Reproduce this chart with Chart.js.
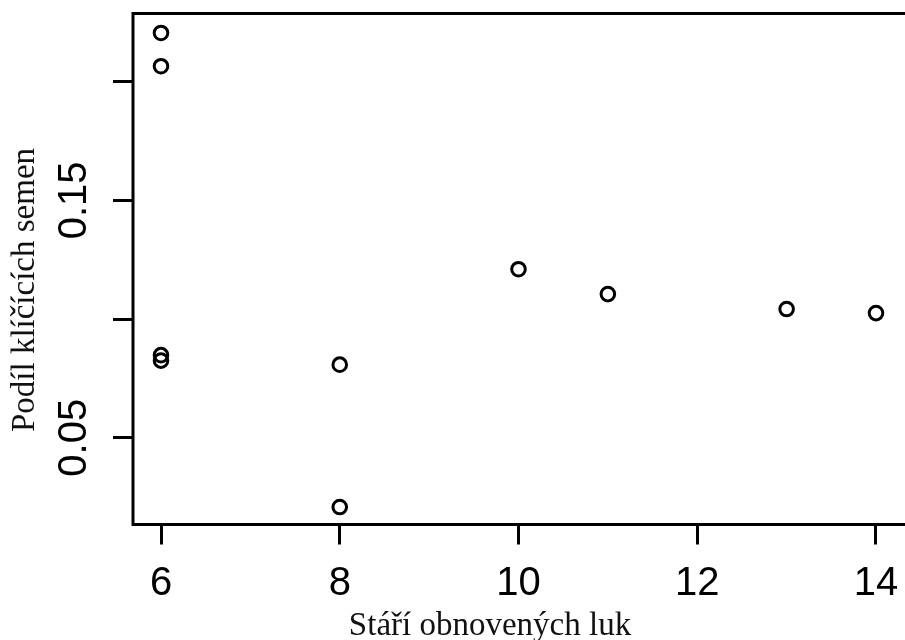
<!DOCTYPE html>
<html lang="cs">
<head>
    <meta charset="UTF-8">
    <title>Podíl klíčících semen</title>
    <script src="https://cdn.jsdelivr.net/npm/chart.js@4/dist/chart.umd.min.js"></script>
    <style>
        html, body { margin: 0; padding: 0; background: #fff; overflow: hidden; }
    </style>
</head>
<body>
    <canvas id="graf" width="905" height="640"></canvas>
    <script>
        // stari obnovenych luk (roky) a podil klicicich semen
        const stari = [6, 6, 6, 6, 8, 8, 10, 11, 13, 14];
        const podil = [0.2205, 0.2065, 0.0848, 0.0825, 0.0808, 0.0208, 0.1210, 0.1105, 0.1042, 0.1025];

        const xTicks = [6, 8, 10, 12, 14];
        const xTickLabels = ['6', '8', '10', '12', '14'];
        const yTicks = [0.05, 0.10, 0.15, 0.20];
        const yTickLabels = ['0.05', '', '0.15', ''];

        const xTitle = 'Stáří obnovených luk';
        const yTitle = 'Podíl klíčících semen';

        const body = [];
        for (let i = 0; i < stari.length; i++) {
            body.push({ x: stari[i], y: podil[i] });
        }

        // ramecek (prava strana je v originale oriznuta), popisky os a nazvy os
        const rPlot = {
            id: 'rPlot',
            afterDraw(chart) {
                const c = chart.ctx;
                const a = chart.chartArea;
                c.save();
                c.strokeStyle = '#000';
                c.lineWidth = 3;
                c.beginPath();
                c.moveTo(chart.width + 2, a.top);
                c.lineTo(a.left, a.top);
                c.lineTo(a.left, a.bottom);
                c.lineTo(chart.width + 2, a.bottom);
                c.stroke();

                const xs = chart.scales.x;
                const ys = chart.scales.y;
                c.fillStyle = '#000';
                c.font = '40px "Liberation Sans", Arial, sans-serif';
                c.textAlign = 'center';
                c.textBaseline = 'alphabetic';
                for (let i = 0; i < xTicks.length; i++) {
                    c.fillText(xTickLabels[i], xs.getPixelForValue(xTicks[i]), 595);
                }
                for (let i = 0; i < yTicks.length; i++) {
                    if (!yTickLabels[i]) continue;
                    c.save();
                    c.translate(86, ys.getPixelForValue(yTicks[i]));
                    c.rotate(-Math.PI / 2);
                    c.fillText(yTickLabels[i], 0, 0);
                    c.restore();
                }

                c.fillStyle = '#111';
                c.font = '33px "Liberation Serif", "Times New Roman", serif';
                c.fillText(xTitle, 490, 635);
                c.save();
                c.translate(34, 290);
                c.rotate(-Math.PI / 2);
                c.fillText(yTitle, 0, 0);
                c.restore();
                c.restore();
            }
        };

        const ctx = document.getElementById('graf').getContext('2d');
        const graf = new Chart(ctx, {
            type: 'scatter',
            data: {
                datasets: [{
                    label: yTitle,
                    data: body,
                    pointStyle: 'circle',
                    pointRadius: 6.8,
                    pointHoverRadius: 6.8,
                    pointBorderWidth: 3,
                    borderColor: '#000',
                    backgroundColor: 'rgba(0,0,0,0)'
                }]
            },
            options: {
                responsive: false,
                animation: false,
                layout: { autoPadding: false, padding: { top: 13.5, right: 0, left: 0, bottom: 0 } },
                plugins: { legend: { display: false }, tooltip: { enabled: false } },
                scales: {
                    x: {
                        type: 'linear',
                        min: 5.6867,
                        max: 14.3245,
                        afterBuildTicks: (s) => { s.ticks = xTicks.map(v => ({ value: v })); },
                        afterFit: (s) => { s.height = 115.5; },
                        border: { display: false },
                        grid: { drawOnChartArea: false, drawTicks: true, tickLength: 20, lineWidth: 3, color: '#000' },
                        ticks: { display: false }
                    },
                    y: {
                        type: 'linear',
                        min: 0.01346,
                        max: 0.2287,
                        afterBuildTicks: (s) => { s.ticks = yTicks.map(v => ({ value: v })); },
                        afterFit: (s) => { s.width = 133; },
                        border: { display: false },
                        grid: { drawOnChartArea: false, drawTicks: true, tickLength: 20, lineWidth: 3, color: '#000' },
                        ticks: { display: false }
                    }
                }
            },
            plugins: [rPlot]
        });
    </script>
</body>
</html>
